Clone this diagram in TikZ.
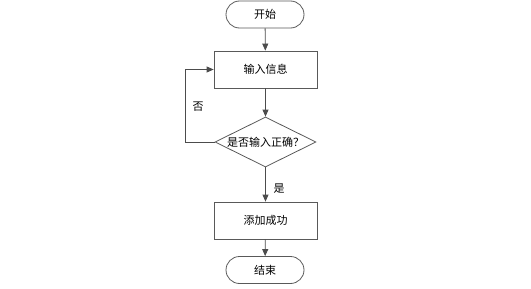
\documentclass[tikz,border=0pt]{standalone}
\usepackage{fontspec}
\newfontfamily\cjk{Noto Sans CJK SC}
\usetikzlibrary{
  arrows.meta,
  positioning,
  shapes.geometric,
  shapes.misc
}

\begin{document}
\begin{tikzpicture}[
  x=1pt,
  y=-1pt,
  >={Triangle[length=7pt,width=6pt]},
  font=\cjk\fontsize{11}{13}\selectfont,
  terminal/.style={rounded rectangle, draw=black!65, line width=0.8pt,
                   minimum width=82pt, minimum height=27pt},
  process/.style={rectangle, draw=black!65, line width=0.8pt,
                  minimum width=103pt, minimum height=37pt},
  decision/.style={diamond, aspect=2, draw=black!65, line width=0.8pt,
                   minimum width=101pt, minimum height=50pt, inner sep=0pt},
  flow/.style={->, draw=black!70, line width=0.8pt},
  every node/.style={inner sep=2pt}
]

  % Page frame.
  \useasboundingbox (0,0) rectangle (531,289);

  % Flowchart blocks.
  \node[terminal] (start) at (265,14.5) {开始};
  \node[process] (input) at (265.5,69.5) {输入信息};
  \node[decision] (check) at (265.5,142) {是否输入正确？};
  \node[process] (done) at (265.5,220.5) {添加成功};
  \node[terminal] (stop) at (265,270) {结束};

  % Main path.
  \draw[flow] (start) -- (input);
  \draw[flow] (input) -- (check);
  \draw[flow] (check) -- (done);
  \draw[flow] (done) -- (stop);

  % Loop back when the input is wrong.
  \draw[flow] (check.west) -- (185,142) |- (input.west);

  % Branch labels.
  \node at (198,107) {否};
  \node at (279,189) {是};

\end{tikzpicture}
\end{document}
